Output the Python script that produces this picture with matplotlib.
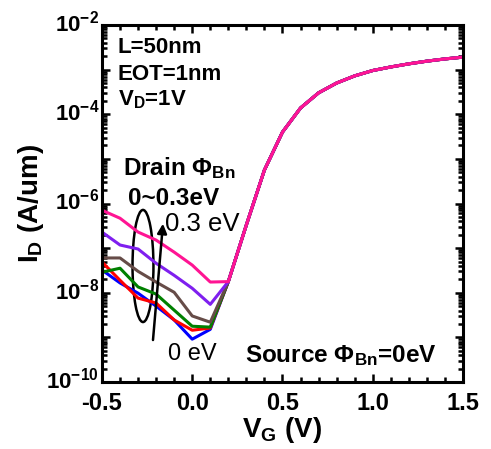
import matplotlib
matplotlib.use("Agg")
import matplotlib.pyplot as plt
import matplotlib.transforms as mtrans
import numpy as np
from matplotlib.patches import Ellipse
from matplotlib.ticker import FixedLocator, LogLocator, MultipleLocator, FuncFormatter

plt.rcParams['font.family'] = ['Liberation Sans', 'DejaVu Sans']
plt.rcParams['font.weight'] = 'bold'
plt.rcParams['mathtext.fontset'] = 'custom'
plt.rcParams['mathtext.rm'] = 'Liberation Sans:bold'
plt.rcParams['mathtext.bf'] = 'Liberation Sans:bold'
plt.rcParams['mathtext.it'] = 'Liberation Sans:bold'
plt.rcParams['mathtext.default'] = 'bf'

# gate voltage, off-state part (differs per drain barrier) and on-state part (shared)
vg_off = [-0.5, -0.4, -0.3, -0.2, -0.1, 0.0, 0.1]
vg_on = [0.2, 0.3, 0.4, 0.5, 0.6, 0.7, 0.8, 0.9, 1.0, 1.1, 1.2, 1.3, 1.4, 1.5]

# log10(ID)
logid_on = [-7.75, -6.48, -5.25, -4.40, -3.86, -3.52, -3.30, -3.14, -3.02, -2.94, -2.87, -2.81, -2.76, -2.72]

logid_blue = [-7.49, -7.78, -8.01, -8.30, -8.61, -9.04, -8.82]
logid_red = [-7.31, -7.72, -8.12, -8.23, -8.61, -8.84, -8.79]
logid_green = [-7.54, -7.45, -7.87, -8.03, -8.39, -8.75, -8.77]
logid_brown = [-7.22, -7.22, -7.52, -7.76, -7.99, -8.52, -8.66]
logid_purple = [-6.64, -6.93, -7.02, -7.34, -7.61, -7.90, -8.26]
logid_pink = [-6.15, -6.33, -6.64, -6.82, -7.09, -7.38, -7.76]

curves = [logid_blue, logid_red, logid_green, logid_brown, logid_purple, logid_pink]
colors = ['#0000ff', '#ff0000', '#008000', '#664c48', '#7f1fef', '#ff1493']

fig = plt.figure(figsize=(4.91, 4.49), dpi=100)
ax = fig.add_axes([0.2077, 0.1492, 0.7352, 0.7951])

for c, col in zip(curves, colors):
    v = vg_off + vg_on
    y = 10 ** np.array(c + logid_on)
    ax.plot(v, y, color=col, lw=2.2)

ax.set_yscale('log')
ax.set_xlim(-0.5, 1.5)
ax.set_ylim(1e-10, 1e-2)

ax.xaxis.set_major_locator(MultipleLocator(0.5))
ax.xaxis.set_minor_locator(MultipleLocator(0.1))
ax.xaxis.set_major_formatter(FuncFormatter(lambda x, p: '%.1f' % x))
ax.yaxis.set_major_locator(FixedLocator([10.0 ** k for k in range(-10, -1)]))
ax.yaxis.set_minor_locator(LogLocator(base=10, subs=np.arange(2, 10), numticks=20))

def ylab(y, p):
    k = int(round(np.log10(y)))
    if k % 2:
        return ''
    return r'$10^{%d}$' % k

ax.yaxis.set_major_formatter(FuncFormatter(ylab))

ax.tick_params(which='both', direction='in', top=True, right=True, width=1.8)
ax.tick_params(which='major', length=6, labelsize=17, pad=7)
ax.tick_params(which='minor', length=3.5)
ax.tick_params(axis='y', which='major', labelsize=16, pad=2)
for s in ax.spines.values():
    s.set_linewidth(2.2)

# y labels sit a little above their ticks in the original
shift = mtrans.ScaledTranslation(0, 3 / 72, fig.dpi_scale_trans)
for lbl in ax.get_yticklabels():
    lbl.set_transform(lbl.get_transform() + shift)

ax.set_xlabel(r'V$_{\mathbf{G}}$ (V)', fontsize=20, fontweight='bold', labelpad=0)
ax.set_ylabel(r'I$_{\mathbf{D}}$ (A/um)', fontsize=20, fontweight='bold', labelpad=0)

t = ax.transAxes
ax.text(0.044, 0.9216, 'L=50nm', transform=t, fontsize=16)
ax.text(0.044, 0.846, 'EOT=1nm', transform=t, fontsize=16)
ax.text(0.044, 0.775, r'V$_{\mathbf{D}}$=1V', transform=t, fontsize=16)
ax.text(0.058, 0.580, r'Drain Φ$_{\mathbf{Bn}}$', transform=t, fontsize=17.5)
ax.text(0.072, 0.496, '0~0.3eV', transform=t, fontsize=17.5)
ax.text(0.1745, 0.423, '0.3 eV', transform=t, fontsize=18.5, fontweight='normal')
ax.text(0.183, 0.0616, '0 eV', transform=t, fontsize=17, fontweight='normal')
ax.text(0.396, 0.056, r'Source Φ$_{\mathbf{Bn}}$=0eV', transform=t, fontsize=17.5)

ax.add_patch(Ellipse((0.1136, 0.325), 0.058, 0.314, transform=t,
                     fill=False, edgecolor='black', lw=1.8))
ax.annotate('', xy=(0.1690, 0.4435), xytext=(0.1413, 0.1176),
            xycoords=t, textcoords=t,
            arrowprops=dict(arrowstyle='-|>', color='black', lw=1.8,
                            mutation_scale=14, shrinkA=0, shrinkB=0))

fig.savefig('out.png', dpi=100)
